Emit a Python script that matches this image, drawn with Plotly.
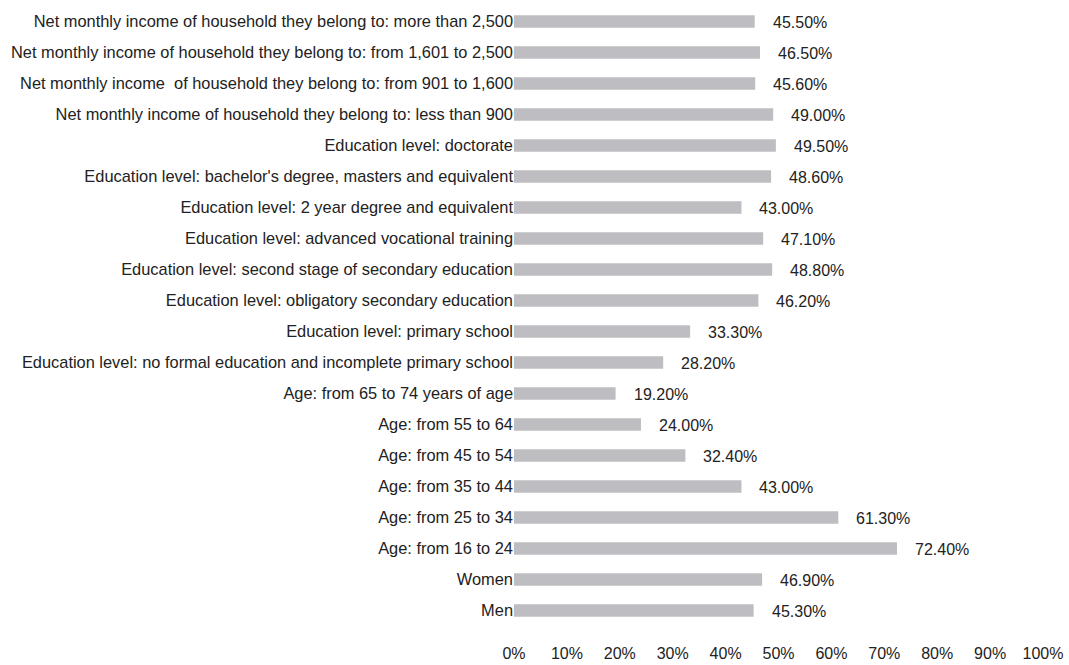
import plotly.graph_objects as go

categories = [
    "Net monthly income of household they belong to: more than 2,500",
    "Net monthly income of household they belong to: from 1,601 to 2,500",
    "Net monthly income  of household they belong to: from 901 to 1,600",
    "Net monthly income of household they belong to: less than 900",
    "Education level: doctorate",
    "Education level: bachelor's degree, masters and equivalent",
    "Education level: 2 year degree and equivalent",
    "Education level: advanced vocational training",
    "Education level: second stage of secondary education",
    "Education level: obligatory secondary education",
    "Education level: primary school",
    "Education level: no formal education and incomplete primary school",
    "Age: from 65 to 74 years of age",
    "Age: from 55 to 64",
    "Age: from 45 to 54",
    "Age: from 35 to 44",
    "Age: from 25 to 34",
    "Age: from 16 to 24",
    "Women",
    "Men",
]
values = [45.5, 46.5, 45.6, 49.0, 49.5, 48.6, 43.0, 47.1, 48.8, 46.2,
          33.3, 28.2, 19.2, 24.0, 32.4, 43.0, 61.3, 72.4, 46.9, 45.3]
tick_vals = [0, 10, 20, 30, 40, 50, 60, 70, 80, 90, 100]
tick_text = [f"{v}%" for v in tick_vals]

sans = "Liberation Sans, Arial, sans-serif"

fig = go.Figure(go.Bar(
    x=values, y=categories, orientation="h",
    marker=dict(color="#BEBEC2", line=dict(width=0)),
    hoverinfo="skip",
))

annotations = []
for c, v in zip(categories, values):
    annotations.append(dict(
        x=v, y=c, xref="x", yref="y", text=f"{v:.2f}%",
        showarrow=False, xanchor="left", yanchor="middle", xshift=16, yshift=-1,
        font=dict(family=sans, size=16, color="#222222"),
    ))

fig.update_layout(
    width=1069, height=665,
    margin=dict(l=514, r=26, t=6, b=39, autoexpand=False),
    paper_bgcolor="white", plot_bgcolor="white",
    bargap=0.6,
    showlegend=False,
    annotations=annotations,
    font=dict(family=sans, size=16, color="#222222"),
)
fig.update_xaxes(
    range=[0, 100], tickvals=tick_vals, ticktext=tick_text,
    showgrid=False, zeroline=False, showline=False, automargin=False,
    ticks="", ticklabelstandoff=16,
    tickfont=dict(family=sans, size=16, color="#222222"),
)
fig.update_yaxes(
    autorange="reversed", showgrid=False, zeroline=False, showline=False,
    automargin=False, ticks="", ticklabelstandoff=0,
    tickfont=dict(family=sans, size=16.4, color="#222222"),
)

fig.write_html("out.html", config={"displayModeBar": False},
               post_script="document.body.style.margin='0';")
